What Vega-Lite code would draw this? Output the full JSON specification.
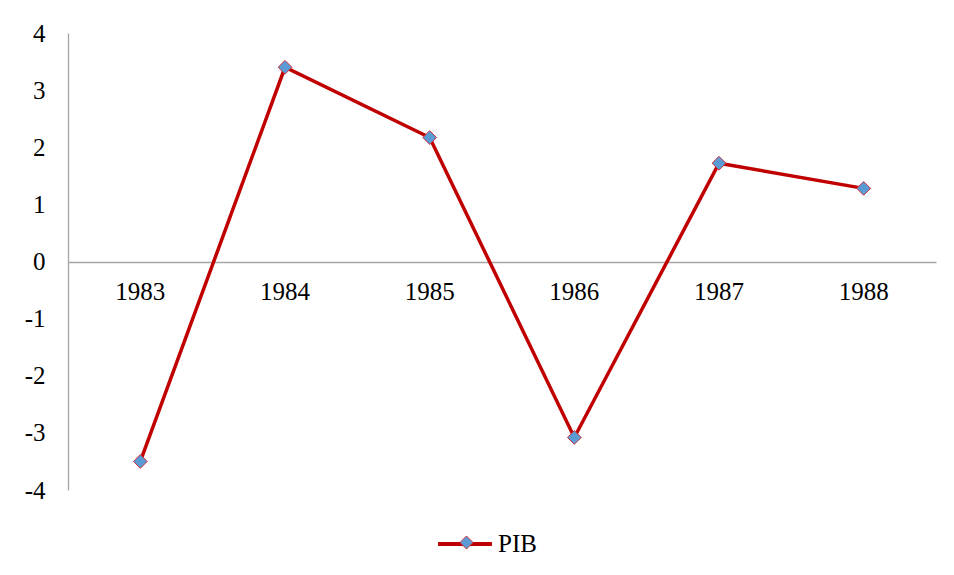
{
  "$schema": "https://vega.github.io/schema/vega-lite/v6.json",
  "width": 868,
  "height": 457,
  "autosize": {"type": "none"},
  "padding": {"left": 68, "top": 33, "right": 18, "bottom": 85},
  "background": "white",
  "config": {
    "view": {"stroke": null},
    "font": "Liberation Serif",
    "legend": {"padding": 0}
  },
  "data": {
    "values": [
      {"year": "1983", "value": -3.5, "series": "PIB", "marker": "PIB "},
      {"year": "1984", "value": 3.4, "series": "PIB", "marker": "PIB "},
      {"year": "1985", "value": 2.17, "series": "PIB", "marker": "PIB "},
      {"year": "1986", "value": -3.08, "series": "PIB", "marker": "PIB "},
      {"year": "1987", "value": 1.72, "series": "PIB", "marker": "PIB "},
      {"year": "1988", "value": 1.28, "series": "PIB", "marker": "PIB "}
    ]
  },
  "encoding": {
    "x": {
      "field": "year", "type": "ordinal",
      "scale": {"type": "band", "paddingInner": 0, "paddingOuter": 0},
      "axis": {
        "title": null, "labelAngle": 0, "offset": -228,
        "domainColor": "#A6A6A6", "domainWidth": 1.3, "ticks": false,
        "labelFont": "Liberation Serif", "labelFontSize": 25, "labelColor": "#000000",
        "labelPadding": 17
      }
    },
    "y": {
      "field": "value", "type": "quantitative",
      "scale": {"domain": [-4, 4], "nice": false, "zero": false},
      "axis": {
        "title": null, "values": [-4, -3, -2, -1, 0, 1, 2, 3, 4], "grid": false,
        "labelExpr": "replace(toString(datum.value), '−', '-')",
        "ticks": false, "domainColor": "#A6A6A6", "domainWidth": 1.3,
        "labelFont": "Liberation Serif", "labelFontSize": 25, "labelColor": "#000000",
        "labelPadding": 23
      }
    }
  },
  "layer": [
    {
      "mark": {"type": "line", "strokeWidth": 3.5},
      "encoding": {
        "color": {
          "field": "series", "type": "nominal",
          "scale": {"range": ["#C00000"]},
          "legend": {
            "title": null, "orient": "none", "legendX": 368, "legendY": 482, "direction": "horizontal",
            "symbolType": "stroke", "symbolSize": 2900, "symbolStrokeWidth": 4,
            "labelFont": "Liberation Serif", "labelFontSize": 25, "labelColor": "#000000",
            "labelOffset": 4
          }
        }
      }
    },
    {
      "mark": {"type": "point", "shape": "diamond", "filled": true, "stroke": "#D0303A", "strokeWidth": 1, "size": 190, "opacity": 1},
      "encoding": {
        "fill": {
          "field": "marker", "type": "nominal",
          "scale": {"range": ["#5B9BD5"]},
          "legend": {
            "title": null, "orient": "none", "legendX": 386, "legendY": 497, "direction": "horizontal",
            "symbolType": "diamond", "symbolSize": 170, "symbolStrokeWidth": 1, "symbolStrokeColor": "#D0303A",
            "symbolOpacity": 1, "labelExpr": "''",
            "labelFont": "Liberation Serif", "labelFontSize": 25, "labelColor": "#000000"
          }
        }
      }
    }
  ]
}
